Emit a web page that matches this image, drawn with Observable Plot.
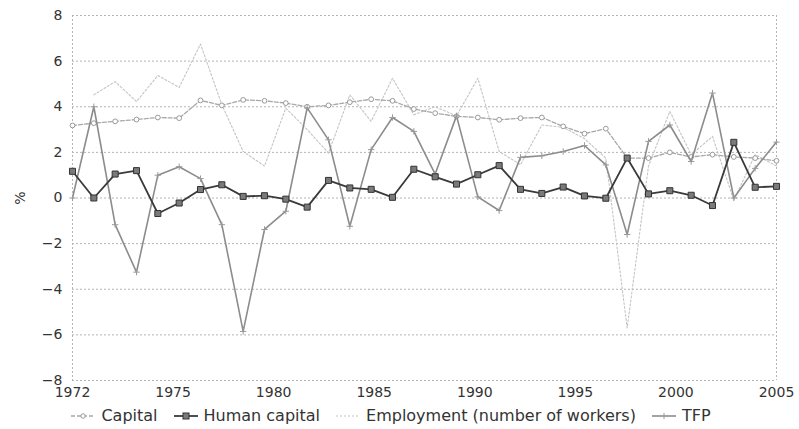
<!DOCTYPE html>
<html><head><meta charset="utf-8">
<script src="https://cdn.jsdelivr.net/npm/d3@7"></script>
<script src="https://cdn.jsdelivr.net/npm/@observablehq/plot@0.6"></script>
<style>
body{margin:0;background:#fff;font-family:"DejaVu Sans",sans-serif;}
#legend{display:flex;justify-content:center;align-items:center;gap:15px;font-size:16px;color:#333;height:27px;padding-right:18px}
.item{display:flex;align-items:center;gap:5px}
</style></head><body><div id="chart"></div><div id="legend"></div>
<script>
const years = [1972,1973,1974,1975,1976,1977,1978,1979,1980,1981,1982,1983,1984,1985,1986,1987,1988,1989,1990,1991,1992,1993,1994,1995,1996,1997,1998,1999,2000,2001,2002,2003,2004,2005];
const capital = [3.18,3.28,3.36,3.44,3.53,3.5,4.28,4.06,4.3,4.26,4.16,4.0,4.06,4.2,4.33,4.26,3.9,3.72,3.58,3.53,3.43,3.5,3.53,3.14,2.82,3.04,1.75,1.75,2.0,1.8,1.9,1.8,1.75,1.63];
const humanCapital = [1.17,0.0,1.05,1.2,-0.68,-0.22,0.37,0.58,0.07,0.1,-0.05,-0.4,0.77,0.44,0.38,0.03,1.26,0.93,0.61,1.02,1.42,0.38,0.2,0.48,0.09,-0.01,1.75,0.18,0.32,0.12,-0.33,2.44,0.47,0.51];
const employment = [null,4.52,5.1,4.23,5.37,4.85,6.75,4.09,2.04,1.4,3.94,3.0,1.97,4.52,3.36,5.25,3.65,4.0,3.6,5.25,2.04,1.46,3.2,3.1,2.6,1.75,-5.7,1.4,3.8,1.9,2.7,-0.1,1.9,1.4];
const tfp = [0.0,4.0,-1.17,-3.25,1.0,1.37,0.85,-1.17,-5.85,-1.38,-0.58,3.95,2.55,-1.24,2.12,3.53,2.92,1.05,3.6,0.05,-0.55,1.78,1.85,2.04,2.3,1.45,-1.6,2.48,3.2,1.6,4.6,0.0,1.3,2.45];
const xTickLabels = ["1972","1975","1980","1985","1990","1995","2000","2005"];
const yTicks = [-8,-6,-4,-2,0,2,4,6,8];
const seriesNames = ["Capital","Human capital","Employment (number of workers)","TFP"];

const x0 = years[0], x1 = years[years.length-1];
const xTickPos = xTickLabels.map((_, i) => x0 + i * (x1 - x0) / (xTickLabels.length - 1));
const pts = vals => vals.map((v, i) => ({x: years[i], y: v}));

const styles = {
  "Capital": {stroke:"#a8a8a8", width:1.3, dash:"4,2", symbol:"circle", r:2.4, fill:"white", mstroke:"#9a9a9a"},
  "Human capital": {stroke:"#3a3a3a", width:1.8, dash:null, symbol:"square", r:3.4, fill:"#7a7a7a", mstroke:"#333"},
  "Employment (number of workers)": {stroke:"#c4c4c4", width:1.1, dash:"2,2", symbol:null},
  "TFP": {stroke:"#8c8c8c", width:1.6, dash:null, symbol:"plus", r:2.2, fill:"none", mstroke:"#9a9a9a"}
};

function lineMarks(vals, name) {
  const s = styles[name];
  const data = pts(vals);
  const m = [Plot.line(data, {x:"x", y:"y", stroke:s.stroke, strokeWidth:s.width, strokeDasharray:s.dash})];
  if (s.symbol) m.push(Plot.dot(data.filter(d => d.y != null), {x:"x", y:"y", symbol:s.symbol, r:s.r, fill:s.fill, stroke:s.mstroke, strokeWidth:1}));
  return m;
}

const chart = Plot.plot({
  width: 799, height: 402,
  marginLeft: 72, marginRight: 23, marginTop: 15, marginBottom: 22,
  style: {fontFamily:"DejaVu Sans, sans-serif", fontSize:"14px", color:"#333", background:"white"},
  x: {domain:[x0, x1]},
  y: {domain:[-8, 8]},
  marks: [
    Plot.gridY(yTicks, {stroke:"#b4b4b4", strokeOpacity:1, strokeDasharray:"2,2"}),
    Plot.ruleX([x0, x1], {stroke:"#b4b4b4", strokeDasharray:"2,2"}),
    Plot.axisY(yTicks, {tickSize:0, tickPadding:10, label:"%", labelAnchor:"center", labelOffset:57, labelArrow:"none"}),
    Plot.axisX(xTickPos, {tickSize:0, tickPadding:7, label:null, tickFormat: d => xTickLabels[Math.round((d - x0) * (xTickLabels.length - 1) / (x1 - x0))]}),
    ...lineMarks(employment, seriesNames[2]),
    ...lineMarks(capital, seriesNames[0]),
    ...lineMarks(tfp, seriesNames[3]),
    ...lineMarks(humanCapital, seriesNames[1])
  ]
});
document.getElementById("chart").append(chart);

// legend
const legend = document.getElementById("legend");
for (const name of seriesNames) {
  const s = styles[name];
  const item = document.createElement("div");
  item.className = "item";
  const sw = d3.create("svg").attr("width", 26).attr("height", 12);
  sw.append("line").attr("x1",1).attr("x2",25).attr("y1",6).attr("y2",6)
    .attr("stroke", s.stroke).attr("stroke-width", s.width).attr("stroke-dasharray", s.dash);
  if (s.symbol === "square") sw.append("rect").attr("x",10).attr("y",3).attr("width",6).attr("height",6).attr("fill",s.fill).attr("stroke",s.mstroke);
  if (s.symbol === "circle") sw.append("circle").attr("cx",13).attr("cy",6).attr("r",2.2).attr("fill","white").attr("stroke",s.mstroke);
  if (s.symbol === "plus") sw.append("path").attr("d","M13,3V9").attr("stroke",s.mstroke);
  item.append(sw.node());
  const t = document.createElement("span");
  t.textContent = name;
  item.append(t);
  legend.append(item);
}
</script></body></html>
